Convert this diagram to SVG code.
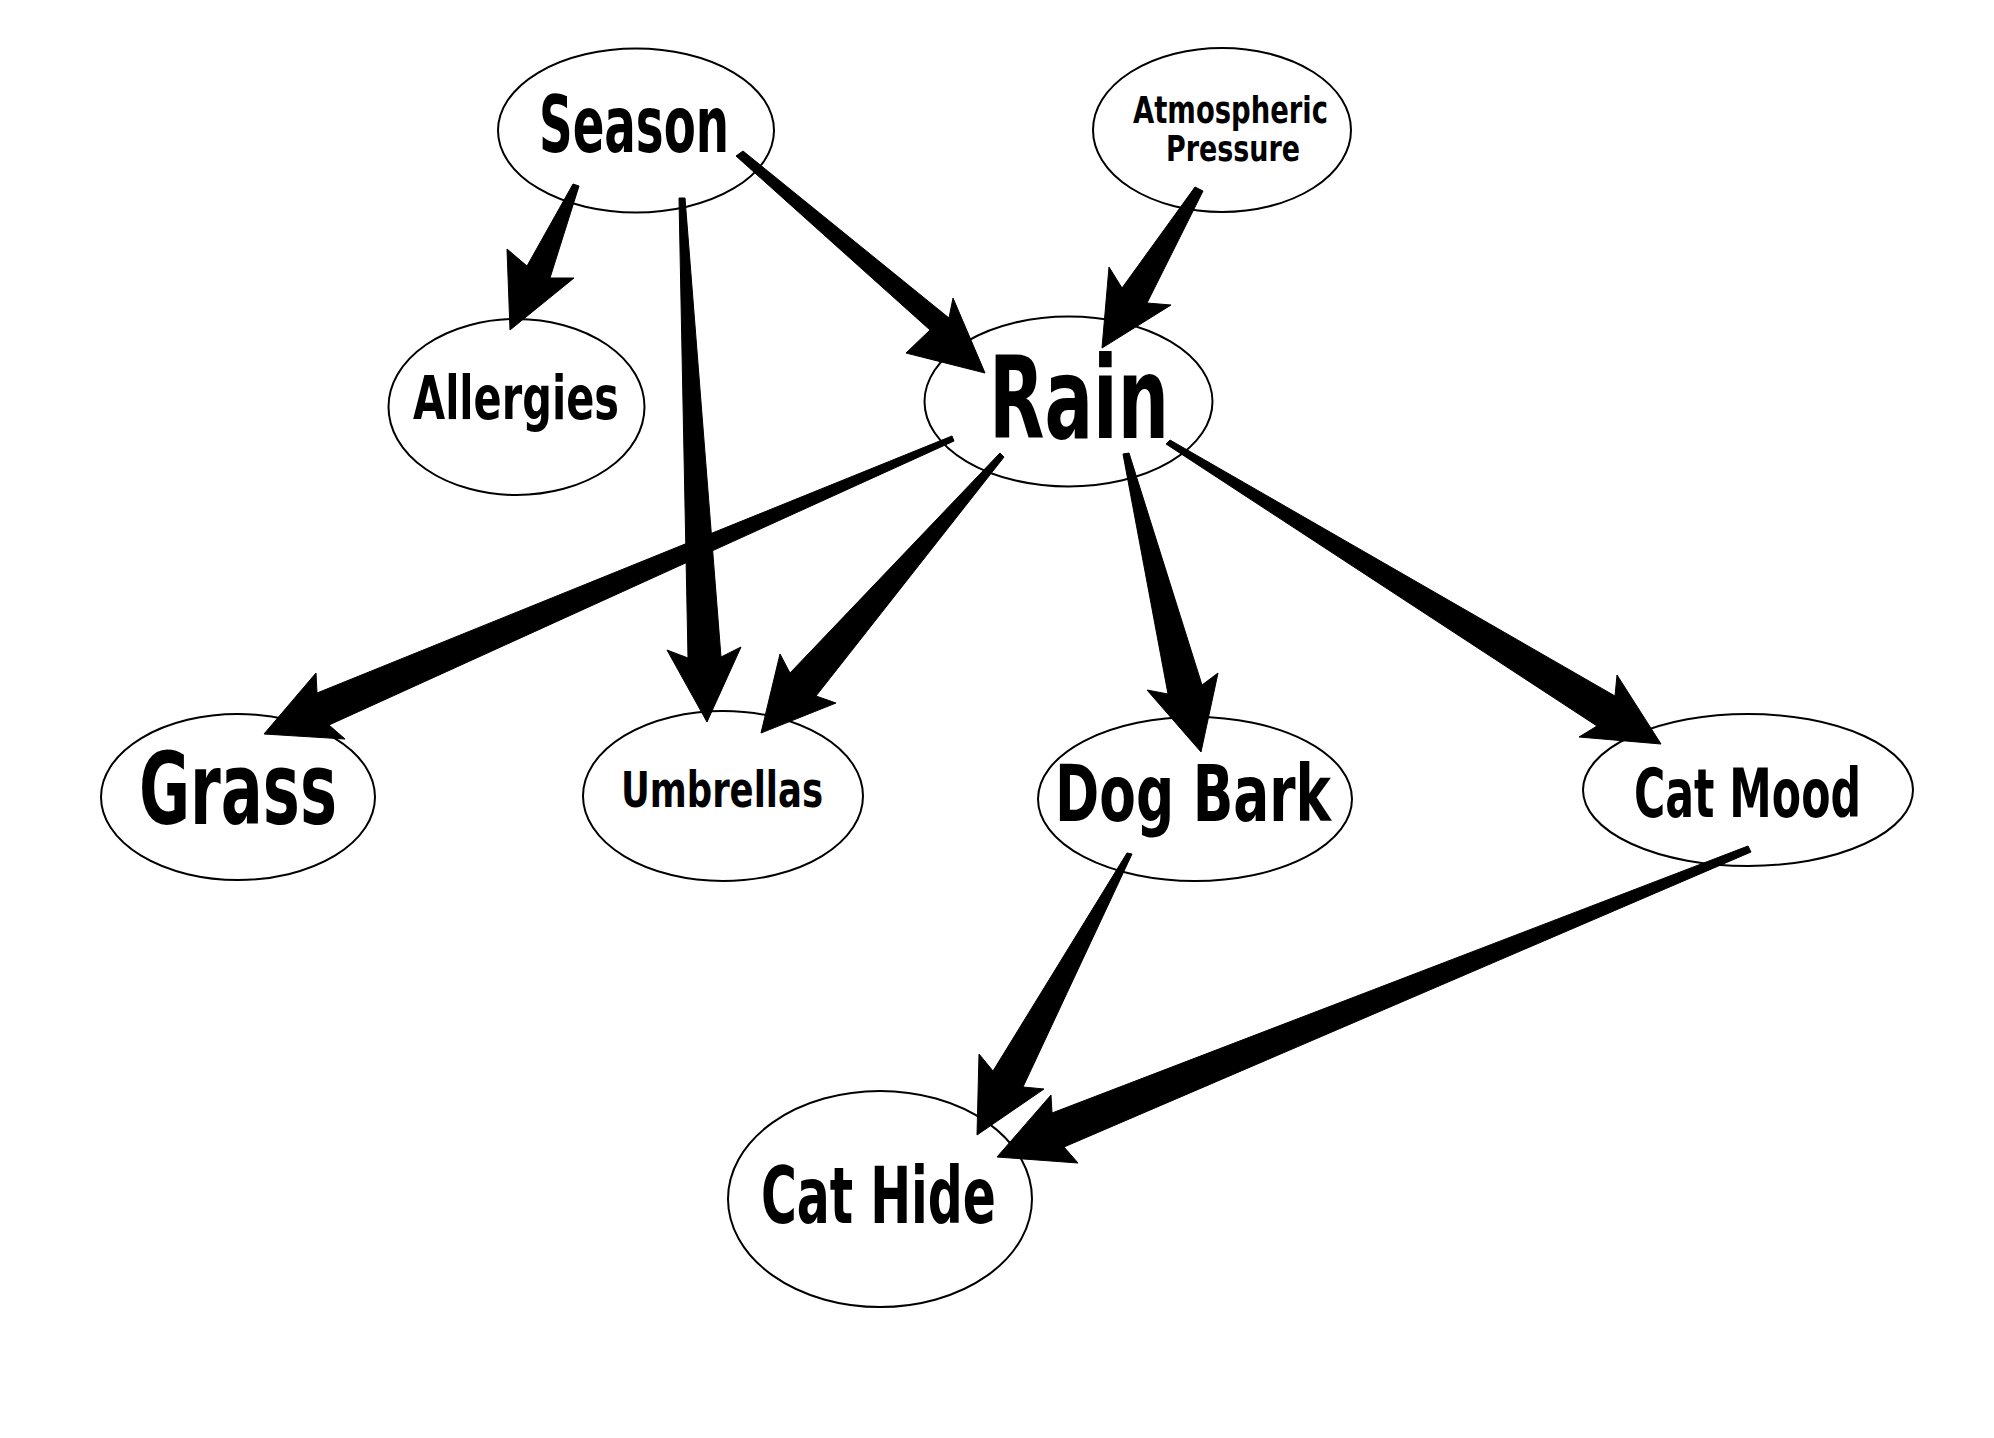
<svg xmlns="http://www.w3.org/2000/svg" width="1994" height="1438" viewBox="0 0 1994 1438">
<style>
.node ellipse{fill:#ffffff;stroke:#000000;stroke-width:2}
.node text{font-family:"DejaVu Sans Condensed","DejaVu Sans","Liberation Sans",sans-serif;font-weight:bold;fill:#000000}
.edge polygon{fill:#000000;stroke:#000000;stroke-width:1;stroke-linejoin:miter}
</style>
<rect x="0" y="0" width="1994" height="1438" fill="#ffffff"/>
<g id="nodes">
<g id="season" class="node">
<ellipse cx="636" cy="130.5" rx="138" ry="82"/>
<text x="539" y="152" font-size="78" textLength="190" lengthAdjust="spacingAndGlyphs">Season</text>
</g>
<g id="atmospheric-pressure" class="node">
<ellipse cx="1222" cy="130" rx="129" ry="82"/>
<text x="1133" y="123" font-size="38" textLength="195" lengthAdjust="spacingAndGlyphs">Atmospheric</text>
<text x="1166" y="161" font-size="36" textLength="134" lengthAdjust="spacingAndGlyphs">Pressure</text>
</g>
<g id="allergies" class="node">
<ellipse cx="516.5" cy="407" rx="128" ry="88"/>
<text x="413" y="419" font-size="60" textLength="206" lengthAdjust="spacingAndGlyphs">Allergies</text>
</g>
<g id="rain" class="node">
<ellipse cx="1068.5" cy="401.5" rx="144" ry="85"/>
<text x="989" y="438" font-size="114" textLength="180" lengthAdjust="spacingAndGlyphs">Rain</text>
</g>
<g id="grass" class="node">
<ellipse cx="238" cy="797" rx="137" ry="83"/>
<text x="139" y="824" font-size="100" textLength="198" lengthAdjust="spacingAndGlyphs">Grass</text>
</g>
<g id="umbrellas" class="node">
<ellipse cx="723" cy="796" rx="140" ry="85"/>
<text x="621" y="807" font-size="49" textLength="202" lengthAdjust="spacingAndGlyphs">Umbrellas</text>
</g>
<g id="dog-bark" class="node">
<ellipse cx="1195" cy="799" rx="157" ry="82"/>
<text x="1055" y="821" font-size="78" textLength="276" lengthAdjust="spacingAndGlyphs">Dog Bark</text>
</g>
<g id="cat-mood" class="node">
<ellipse cx="1748" cy="790" rx="165" ry="76"/>
<text x="1634" y="817" font-size="68" textLength="227" lengthAdjust="spacingAndGlyphs">Cat Mood</text>
</g>
<g id="cat-hide" class="node">
<ellipse cx="880" cy="1199" rx="152" ry="108"/>
<text x="761" y="1223" font-size="78" textLength="235" lengthAdjust="spacingAndGlyphs">Cat Hide</text>
</g>
</g>
<g id="connectors" class="edge">
<polygon id="season-allergies" points="573,184 579,186 550,278 574,278 510,330 507,249 527,266"/>
<polygon id="season-umbrellas" points="679,198 685,198 721,657 741,647 707,722 667,650 688,658"/>
<polygon id="season-rain" points="743,151 949,318 953,298 985,373 906,353 930,330 736,156"/>
<polygon id="pressure-rain" points="1195,187 1203,191 1147,303 1171,305 1102,348 1109,267 1122,288"/>
<polygon id="rain-grass" points="952,436 317,693 316,673 264,734 345,739 329,725 954,441"/>
<polygon id="rain-umbrellas" points="1000,453 790,673 780,654 761,733 836,703 816,696 1004,457"/>
<polygon id="rain-dogbark" points="1123,454 1168,694 1147,690 1201,752 1218,673 1202,685 1129,453"/>
<polygon id="rain-catmood" points="1170,440 1615,696 1617,675 1661,744 1579,737 1597,726 1166,444"/>
<polygon id="dogbark-cathide" points="1127,853 993,1071 979,1054 977,1135 1044,1089 1023,1087 1132,854"/>
<polygon id="catmood-cathide" points="1748,846 1052,1113 1051,1095 997,1157 1078,1163 1064,1147 1751,852"/>
</g>
</svg>
